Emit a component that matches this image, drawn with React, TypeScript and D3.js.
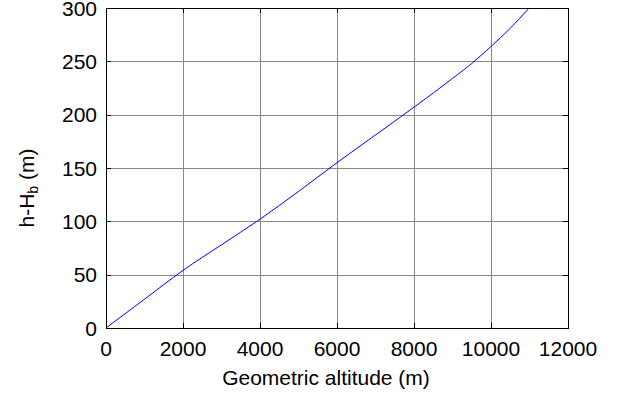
import { useEffect, useRef } from "react";
import * as d3 from "d3";

// altitude (m) and h - H_b (m)
const altitude = [0, 1000, 2000, 3000, 4000, 5000, 6000, 7000, 8000, 9000, 9500, 10000, 10500, 10990];
const diff = [0, 27, 54, 78, 102, 128, 155, 181, 207, 234, 248, 264, 281, 300];
const xTicks = [0, 2000, 4000, 6000, 8000, 10000, 12000];
const yTicks = [0, 50, 100, 150, 200, 250, 300];

const W = 622;
const H = 397;
const margin = { left: 106, right: 54, top: 8, bottom: 69 };
const font = "'Liberation Sans', Arial, sans-serif";

export default function App() {
  const ref = useRef<SVGSVGElement>(null);

  useEffect(() => {
    const svg = d3.select(ref.current);
    svg.selectAll("*").remove();

    const x = d3.scaleLinear().domain([0, 12000]).range([margin.left, W - margin.right]);
    const y = d3.scaleLinear().domain([0, 300]).range([H - margin.bottom, margin.top]);
    const [x0, x1] = x.range();
    const [y0, y1] = y.range();

    svg.append("rect").attr("width", W).attr("height", H).attr("fill", "#fff");

    // grid
    const grid = svg.append("g").attr("stroke", "#888").attr("stroke-width", 1);
    grid.selectAll("line.v").data(xTicks.slice(1, -1)).join("line")
      .attr("x1", (d) => Math.round(x(d)) + 0.5).attr("x2", (d) => Math.round(x(d)) + 0.5)
      .attr("y1", y1).attr("y2", y0);
    grid.selectAll("line.h").data(yTicks.slice(1)).join("line")
      .attr("y1", (d) => Math.round(y(d)) + 0.5).attr("y2", (d) => Math.round(y(d)) + 0.5)
      .attr("x1", x0).attr("x2", x1);

    // curve
    const line = d3.line<number>().x((d, i) => x(altitude[i])).y((d) => y(d)).curve(d3.curveMonotoneX);
    svg.append("path").datum(diff).attr("d", line)
      .attr("fill", "none").attr("stroke", "#0000ff").attr("stroke-width", 1);

    // box and ticks
    const ax = svg.append("g").attr("stroke", "#000").attr("stroke-width", 1).attr("fill", "none");
    ax.append("rect").attr("x", x0 + 0.5).attr("y", y1 + 0.5)
      .attr("width", x1 - x0).attr("height", y0 - y1);
    const tl = 5;
    xTicks.forEach((t) => {
      const px = Math.round(x(t)) + 0.5;
      ax.append("line").attr("x1", px).attr("x2", px).attr("y1", y0).attr("y2", y0 - tl);
      ax.append("line").attr("x1", px).attr("x2", px).attr("y1", y1).attr("y2", y1 + tl);
    });
    yTicks.forEach((t) => {
      const py = Math.round(y(t)) + 0.5;
      ax.append("line").attr("y1", py).attr("y2", py).attr("x1", x0).attr("x2", x0 + tl);
      ax.append("line").attr("y1", py).attr("y2", py).attr("x1", x1).attr("x2", x1 - tl);
    });

    // tick labels
    const labels = svg.append("g").attr("font-family", font).attr("font-size", 21).attr("fill", "#000");
    labels.selectAll("text.x").data(xTicks).join("text")
      .attr("x", (d) => x(d)).attr("y", y0 + 28).attr("text-anchor", "middle")
      .text((d) => d);
    labels.selectAll("text.y").data(yTicks).join("text")
      .attr("x", x0 - 9).attr("y", (d) => y(d) + 7.5).attr("text-anchor", "end")
      .text((d) => d);

    // axis titles
    svg.append("text").attr("x", 326).attr("y", 385).attr("text-anchor", "middle")
      .attr("font-family", font).attr("font-size", 21).text("Geometric altitude (m)");

    const yl = svg.append("text").attr("transform", "translate(34,188) rotate(-90)")
      .attr("text-anchor", "middle").attr("font-family", font).attr("font-size", 21);
    yl.append("tspan").text("h-H");
    yl.append("tspan").attr("font-size", 14).attr("dy", 4).text("b");
    yl.append("tspan").attr("dy", -4).text(" (m)");
  }, []);

  return (
    <svg ref={ref} width={W} height={H} style={{ position: "absolute", left: 0, top: 0 }} />
  );
}
